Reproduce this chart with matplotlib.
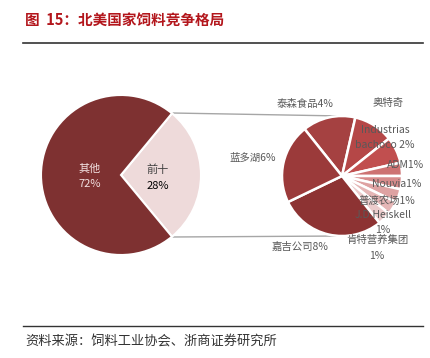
import matplotlib
matplotlib.use("Agg")
import matplotlib.pyplot as plt

plt.rcParams['font.family'] = ['Noto Sans CJK SC', 'DejaVu Sans']

# data
main_labels = ['前十', '其他']
main_values = [28, 72]
main_colors = ['#eedada', '#7e3131']

sub_labels = ['泰森食品', '奥特奇', 'Industrias bachoco', 'ADM', 'Nouvia',
              '普渡农场', 'J.D.Heiskell', '肯特营养集团', '嘉吉公司', '蓝多湖']
sub_values = [4, 3, 2, 1, 1, 1, 1, 1, 8, 6]
sub_colors = ['#a54141', '#b54747', '#c14f4f', '#cd7272', '#d68b8b',
              '#dea2a2', '#e5b6b6', '#eccccc', '#8d3333', '#9b3a3a']

W, H = 431, 358
fig = plt.figure(figsize=(W / 100, H / 100), dpi=100)
ax = fig.add_axes([0, 0, 1, 1])
ax.set_xlim(0, W)
ax.set_ylim(0, H)
ax.set_aspect('equal')
ax.axis('off')

def Y(y):
    return H - y

# header / footer
fig.text(25 / W, 1 - 20 / H, '图  15：北美国家饲料竞争格局', color='#b3161c',
         fontsize=10.5, fontweight='bold', va='center', ha='left')
ax.plot([23, 423], [Y(43), Y(43)], color='#333333', lw=1.2)
ax.plot([23, 423], [Y(326), Y(326)], color='#333333', lw=1.0)
fig.text(25 / W, 1 - 342 / H, '资料来源：饲料工业协会、浙商证券研究所', color='#333333',
         fontsize=9.5, va='center', ha='left')

# connector lines
c1 = (121, Y(175))
r1 = 80
c2 = (342, Y(176))
r2 = 60
ax.plot([172, c2[0]], [Y(113), c2[1] + r2], color='#a6a6a6', lw=1, zorder=1)
ax.plot([172, c2[0]], [Y(237), c2[1] - r2], color='#a6a6a6', lw=1, zorder=1)

half = main_values[0] / sum(main_values) * 360 / 2
ax.pie(main_values, colors=main_colors, startangle=-half, center=c1, radius=r1,
       wedgeprops=dict(edgecolor='white', linewidth=1.5), frame=True)

ax.pie(sub_values, colors=sub_colors, startangle=128.57, counterclock=False,
       center=c2, radius=r2, wedgeprops=dict(edgecolor='white', linewidth=1.8),
       frame=True)
ax.set_xlim(0, W)
ax.set_ylim(0, H)
ax.axis('off')

# labels, main pie
ax.text(90, Y(169), main_labels[1], color='#f2e0e0', fontsize=8, ha='center', va='center')
ax.text(90, Y(184), f'{main_values[1]}%', color='#f2e0e0', fontsize=8, ha='center', va='center')
ax.text(158, Y(170), main_labels[0], color='#404040', fontsize=8, ha='center', va='center')
ax.text(158, Y(186), f'{main_values[0]}%', color='black', fontsize=8, ha='center', va='center')

# labels, secondary pie
lc = '#595959'
fs = 7.5
ax.text(305, Y(104), f'{sub_labels[0]}{sub_values[0]}%', color=lc, fontsize=fs, ha='center', va='center')
ax.text(388, Y(103), sub_labels[1], color=lc, fontsize=fs, ha='center', va='center')
ax.text(385, Y(130), 'Industrias', color=lc, fontsize=fs, ha='center', va='center')
ax.text(385, Y(145), f'bachoco {sub_values[2]}%', color=lc, fontsize=fs, ha='center', va='center')
ax.text(406, Y(165), f'{sub_labels[3]}{sub_values[3]}%', color=lc, fontsize=fs, ha='center', va='center')
ax.text(397, Y(184), f'{sub_labels[4]}{sub_values[4]}%', color=lc, fontsize=fs, ha='center', va='center')
ax.text(387, Y(201), f'{sub_labels[5]}{sub_values[5]}%', color=lc, fontsize=fs, ha='center', va='center')
ax.text(383, Y(215), sub_labels[6], color=lc, fontsize=fs, ha='center', va='center')
ax.text(383, Y(230), f'{sub_values[6]}%', color=lc, fontsize=fs, ha='center', va='center')
ax.text(377, Y(240), sub_labels[7], color=lc, fontsize=fs, ha='center', va='center')
ax.text(377, Y(256), f'{sub_values[7]}%', color=lc, fontsize=fs, ha='center', va='center')
ax.text(300, Y(247), f'{sub_labels[8]}{sub_values[8]}%', color=lc, fontsize=fs, ha='center', va='center')
ax.text(253, Y(158), f'{sub_labels[9]}{sub_values[9]}%', color=lc, fontsize=fs, ha='center', va='center')

fig.savefig('out.png', dpi=100)
